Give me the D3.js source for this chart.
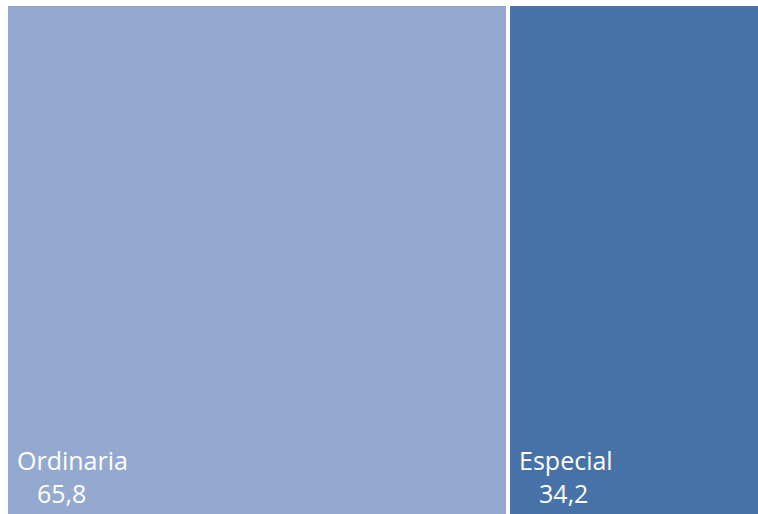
<!DOCTYPE html>
<html>
<head>
<meta charset="utf-8">
<script src="https://cdn.jsdelivr.net/npm/d3@7"></script>
<style>
  html, body { margin: 0; padding: 0; background: #ffffff; overflow: hidden; }
  svg { display: block; }
</style>
</head>
<body>
<svg id="chart" width="758" height="514"></svg>
<script>
// Share of cases by procedure type
const categories = ["Ordinaria", "Especial"];
const values = [65.8, 34.2];
const valueLabels = ["65,8", "34,2"];
const colors = ["#94a9d0", "#4672a7"];

const width = 758, height = 514;
const svg = d3.select("#chart");

const origin = { x: 8, y: 6 };
const areaW = 759, areaH = height - origin.y;

const root = d3.hierarchy({
  children: categories.map((name, i) => ({ name, value: values[i], label: valueLabels[i], color: colors[i] }))
}).sum(d => d.value || 0);

d3.treemap()
  .tile(d3.treemapDice)
  .size([areaW, areaH])
  .paddingInner(4)(root);

const g = svg.append("g").attr("transform", `translate(${origin.x},${origin.y})`);

const cell = g.selectAll("g.cell")
  .data(root.leaves())
  .join("g")
  .attr("class", "cell");

cell.append("rect")
  .attr("x", d => d.x0)
  .attr("y", d => d.y0)
  .attr("width", d => d.x1 - d.x0)
  .attr("height", d => d.y1 - d.y0)
  .attr("fill", d => d.data.color);

cell.append("text")
  .attr("x", d => d.x0 + 9)
  .attr("y", d => d.y1 - 44)
  .attr("fill", "#ffffff")
  .style("font-family", "'Open Sans', 'Noto Sans', sans-serif")
  .style("font-size", "25px")
  .text(d => d.data.name);

cell.append("text")
  .attr("x", d => d.x0 + 29)
  .attr("y", d => d.y1 - 11)
  .attr("fill", "#ffffff")
  .style("font-family", "'Open Sans', 'Noto Sans', sans-serif")
  .style("font-size", "25px")
  .text(d => d.data.label);
</script>
</body>
</html>
